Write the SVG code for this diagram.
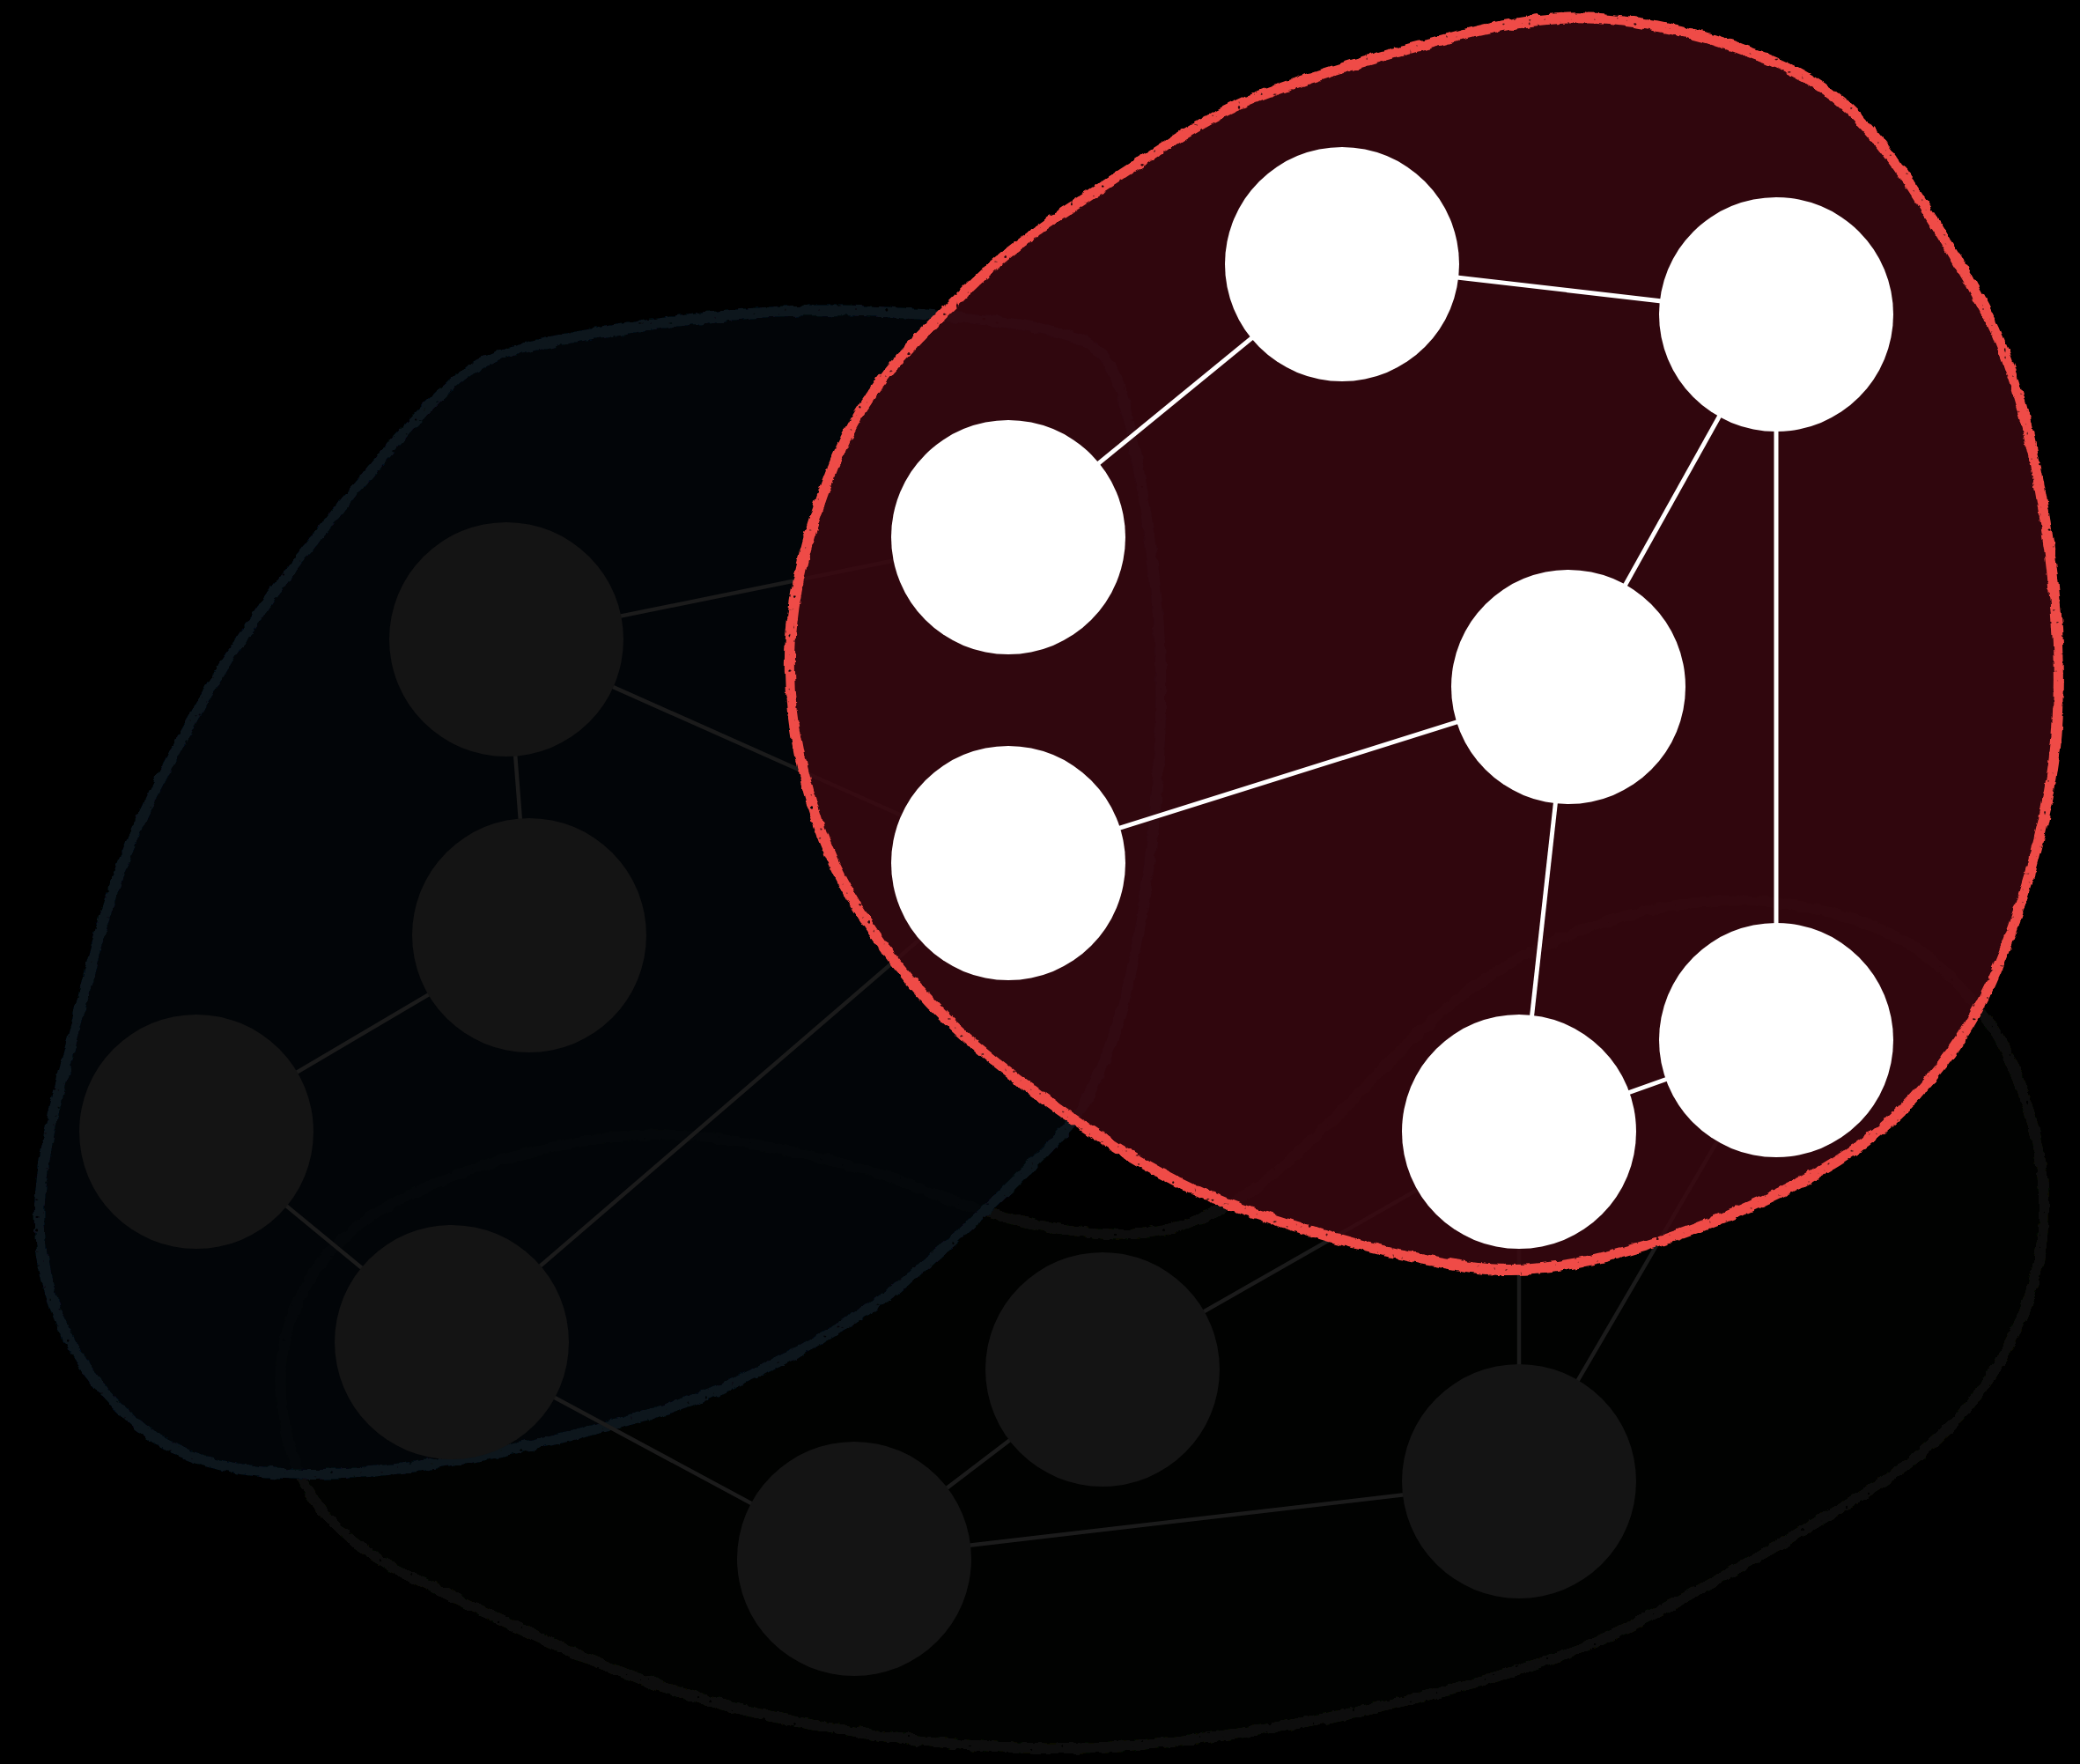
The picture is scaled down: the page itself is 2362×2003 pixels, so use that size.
<svg xmlns="http://www.w3.org/2000/svg" width="2362" height="2003" viewBox="0 0 2362 2003">
  <style>
    .edge-dark { stroke: #1b1b1b; stroke-width: 4.5; fill: none; }
    .edge-light { stroke: #ffffff; stroke-width: 5; fill: none; }
    .node-dark { fill: #141414; }
    .node-light { fill: #ffffff; }
    .outline { fill: none; stroke-width: 12; stroke-linejoin: round; filter: url(#rough); }
  </style>
  <defs>
    <!-- chalky, ragged outline for the cluster hulls -->
    <filter id="rough" filterUnits="userSpaceOnUse" x="0" y="0" width="2362" height="2003">
      <feTurbulence type="fractalNoise" baseFrequency="0.08" numOctaves="3" seed="3" result="warp"/>
      <feDisplacementMap in="SourceGraphic" in2="warp" scale="6" xChannelSelector="R" yChannelSelector="G" result="ragged"/>
      <feTurbulence type="fractalNoise" baseFrequency="0.2" numOctaves="1" seed="11" result="grain"/>
      <feColorMatrix in="grain" type="matrix" values="0 0 0 0 0  0 0 0 0 0  0 0 0 0 0  12 0 0 0 -2.5" result="mask"/>
      <feComposite in="ragged" in2="mask" operator="in"/>
    </filter>
    <path id="hull-green" d="M324,1621 Q311,1557 328.5,1503.5 Q346,1450 383,1412.5 Q420,1375 489,1346 Q558,1317 630,1302 Q702,1287 759.5,1288.5 Q817,1290 903,1308.5 Q989,1327 1046.5,1350 Q1104,1373 1152,1385 Q1200,1397 1255,1401 Q1310,1405 1360,1385 Q1410,1365 1455,1326 Q1500,1287 1582.5,1201 Q1665,1115 1747.5,1076.5 Q1830,1038 1912.5,1026.5 Q1995,1015 2077.5,1036 Q2160,1057 2206.5,1101 Q2253,1145 2275,1187.5 Q2297,1230 2311,1287 Q2325,1344 2319.5,1401.5 Q2314,1459 2286.5,1516.5 Q2259,1574 2219.5,1614.5 Q2180,1655 2140.5,1681 Q2101,1707 2006,1762 Q1911,1817 1844.5,1850 Q1778,1883 1653.5,1916.5 Q1529,1950 1404.5,1968.5 Q1280,1987 1176.5,1985 Q1073,1983 969.5,1966.5 Q866,1950 783,1925 Q700,1900 605,1856 Q510,1812 459,1786.5 Q408,1761 372.5,1723 Q337,1685 324,1621 Z"/>
    <path id="hull-blue" d="M516,433.5 Q546,407 593,395.5 Q640,384 706.5,373.5 Q773,363 845,356.5 Q917,350 988.5,353.5 Q1060,357 1120,363.5 Q1180,370 1219,382.5 Q1262,394 1277,459 Q1293,523 1304,601.5 Q1315,680 1317.5,740 Q1320,800 1315,880 Q1310,960 1295,1050 Q1280,1140 1256.5,1198.5 Q1233,1257 1214,1278.5 Q1195,1300 1149.5,1345 Q1104,1390 1046.5,1440 Q989,1490 903,1536.5 Q817,1583 730.5,1608 Q644,1633 558,1650.5 Q472,1668 402,1672.5 Q332,1677 273,1668 Q214,1659 171,1628.5 Q128,1598 97,1552 Q66,1506 53.5,1455 Q41,1404 46,1353 Q51,1302 64,1251 Q77,1200 102.5,1100 Q128,1000 161,929 Q194,858 240,780 Q286,702 352,619.5 Q418,537 452,498.5 Q486,460 516,433.5 Z"/>
    <path id="hull-red" d="M1770,21 Q1819,18 1879.5,29 Q1940,40 2001,64.5 Q2062,89 2098,122.5 Q2134,156 2170.5,212 Q2207,268 2239,323.5 Q2271,379 2288,435 Q2305,491 2317,558 Q2329,625 2334.5,692.5 Q2340,760 2336.5,820 Q2333,880 2316.5,948.5 Q2300,1017 2274,1085 Q2248,1153 2204,1210.5 Q2160,1268 2105,1306 Q2050,1344 1967.5,1378.5 Q1885,1413 1808,1430.5 Q1731,1448 1670.5,1439 Q1610,1430 1555,1416 Q1500,1402 1428,1379 Q1356,1356 1280.5,1310.5 Q1205,1265 1129.5,1205 Q1054,1145 1002,1072.5 Q950,1000 928.5,933.5 Q907,867 900,808.5 Q893,750 901.5,690 Q910,630 933.5,563.5 Q957,497 980,462 Q1003,427 1031.5,397 Q1060,367 1102.5,325 Q1145,283 1207.5,241.5 Q1270,200 1330,161.5 Q1390,123 1445,103.5 Q1500,84 1550,69.5 Q1600,55 1660.5,39.5 Q1721,24 1770,21 Z"/>
  </defs>

  <rect x="0" y="0" width="2362" height="2003" fill="#000000"/>

  <!-- background clusters -->
  <g id="cluster-green">
    <use href="#hull-green" fill="#010201"/>
    <use href="#hull-green" class="outline" stroke="#0c1009"/>
  </g>
  <g id="cluster-blue">
    <use href="#hull-blue" fill="#03060a" fill-opacity="0.8"/>
    <use href="#hull-blue" class="outline" stroke="#08131d"/>
  </g>

  <!-- links between the dim nodes (and into the highlighted group) -->
  <g id="connectors-dim">
    <line class="edge-dark" x1="575" y1="726" x2="1145" y2="610"/>
    <line class="edge-dark" x1="575" y1="726" x2="1145" y2="980"/>
    <line class="edge-dark" x1="575" y1="726" x2="601" y2="1062"/>
    <line class="edge-dark" x1="601" y1="1062" x2="223" y2="1285"/>
    <line class="edge-dark" x1="223" y1="1285" x2="513" y2="1524"/>
    <line class="edge-dark" x1="513" y1="1524" x2="1145" y2="980"/>
    <line class="edge-dark" x1="513" y1="1524" x2="970" y2="1770"/>
    <line class="edge-dark" x1="970" y1="1770" x2="1252" y2="1555"/>
    <line class="edge-dark" x1="970" y1="1770" x2="1725" y2="1682"/>
    <line class="edge-dark" x1="1252" y1="1555" x2="1725" y2="1285"/>
    <line class="edge-dark" x1="1725" y1="1682" x2="1725" y2="1285"/>
    <line class="edge-dark" x1="1725" y1="1682" x2="2017" y2="1181"/>
  </g>

  <g id="node-h"><circle class="node-dark" cx="575" cy="726" r="133"/></g>
  <g id="node-i"><circle class="node-dark" cx="601" cy="1062" r="133"/></g>
  <g id="node-j"><circle class="node-dark" cx="223" cy="1285" r="133"/></g>
  <g id="node-k"><circle class="node-dark" cx="513" cy="1524" r="133"/></g>
  <g id="node-l"><circle class="node-dark" cx="1252" cy="1555" r="133"/></g>
  <g id="node-m"><circle class="node-dark" cx="970" cy="1770" r="133"/></g>
  <g id="node-n"><circle class="node-dark" cx="1725" cy="1682" r="133"/></g>

  <!-- highlighted cluster -->
  <g id="cluster-red">
    <use href="#hull-red" fill="#3c0810" fill-opacity="0.8"/>
    <use href="#hull-red" class="outline" stroke="#ef4c47"/>
  </g>

  <g id="connectors-highlight">
    <line class="edge-light" x1="1524" y1="300" x2="2017" y2="357"/>
    <line class="edge-light" x1="1524" y1="300" x2="1145" y2="610"/>
    <line class="edge-light" x1="2017" y1="357" x2="1781" y2="780"/>
    <line class="edge-light" x1="2017" y1="357" x2="2017" y2="1181"/>
    <line class="edge-light" x1="1781" y1="780" x2="1145" y2="980"/>
    <line class="edge-light" x1="1781" y1="780" x2="1725" y2="1285"/>
    <line class="edge-light" x1="1725" y1="1285" x2="2017" y2="1181"/>
  </g>

  <g id="node-a"><circle class="node-light" cx="1524" cy="300" r="133"/></g>
  <g id="node-b"><circle class="node-light" cx="2017" cy="357" r="133"/></g>
  <g id="node-c"><circle class="node-light" cx="1145" cy="610" r="133"/></g>
  <g id="node-d"><circle class="node-light" cx="1781" cy="780" r="133"/></g>
  <g id="node-e"><circle class="node-light" cx="1145" cy="980" r="133"/></g>
  <g id="node-f"><circle class="node-light" cx="2017" cy="1181" r="133"/></g>
  <g id="node-g"><circle class="node-light" cx="1725" cy="1285" r="133"/></g>
</svg>
